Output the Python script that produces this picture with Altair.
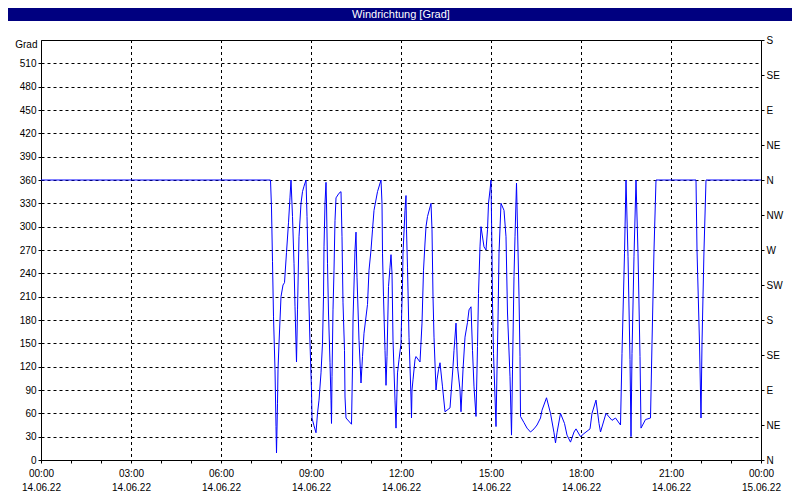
import altair as alt
import pandas as pd

# ---- data ----
times = [
    "00:00", "07:39", "07:41", "07:43", "07:45", "07:48", "07:50", "07:51", "07:53", "07:54",
    "07:56", "08:00", "08:04", "08:07", "08:11", "08:15", "08:18", "08:20", "08:23", "08:26",
    "08:28", "08:30", "08:31", "08:33", "08:36", "08:40", "08:43", "08:46", "08:50", "08:52",
    "08:54", "08:56", "08:58", "09:01", "09:02", "09:06", "09:10", "09:13", "09:16", "09:20",
    "09:23", "09:25", "09:26", "09:28", "09:30", "09:31", "09:33", "09:35", "09:38", "09:40",
    "09:41", "09:42", "09:44", "09:46", "09:48", "09:50", "09:56", "10:00", "10:02", "10:04",
    "10:07", "10:08", "10:10", "10:21", "10:23", "10:24", "10:28", "10:30", "10:32", "10:36",
    "10:40", "10:43", "10:46", "10:53", "10:56", "11:00", "11:03", "11:06", "11:13", "11:20",
    "11:22", "11:23", "11:25", "11:28", "11:30", "11:32", "11:35", "11:38", "11:40", "11:42",
    "11:44", "11:48", "11:50", "11:53", "11:56", "12:00", "12:01", "12:03", "12:04", "12:08",
    "12:10", "12:11", "12:13", "12:16", "12:20", "12:21", "12:22", "12:24", "12:28", "12:30",
    "12:38", "12:42", "12:45", "12:48", "12:50", "12:53", "13:00", "13:02", "13:04", "13:06",
    "13:10", "13:12", "13:15", "13:18", "13:23", "13:28", "13:38", "13:44", "13:46", "13:50",
    "13:53", "13:58", "14:00", "14:04", "14:08", "14:13", "14:16", "14:20", "14:23", "14:26",
    "14:30", "14:33", "14:35", "14:38", "14:40", "14:46", "14:50", "14:53", "14:55", "14:58",
    "15:00", "15:02", "15:03", "15:05", "15:08", "15:10", "15:12", "15:14", "15:16", "15:20",
    "15:26", "15:30", "15:33", "15:38", "15:41", "15:43", "15:46", "15:48", "15:51", "15:54",
    "15:56", "15:58", "15:59", "16:06", "16:12", "16:19", "16:26", "16:32", "16:39", "16:42",
    "16:51", "16:59", "17:06", "17:09", "17:12", "17:19", "17:27", "17:32", "17:39", "17:46",
    "17:50", "17:59", "18:06", "18:18", "18:22", "18:30", "18:36", "18:39", "18:50", "19:02",
    "19:09", "19:19", "19:22", "19:27", "19:30", "19:34", "19:38", "19:40", "19:42", "19:46",
    "19:50", "19:54", "19:58", "20:00", "20:09", "20:19", "20:22", "20:26", "20:30", "21:50",
    "21:52", "21:57", "22:00", "22:02", "22:06", "22:10", "24:00",
]
values = [
    360, 360, 324, 255, 184, 116, 43, 9, 73, 116,
    150, 210, 225, 228, 267, 305, 338, 360, 313, 253,
    197, 150, 126, 193, 287, 330, 345, 352, 360, 313,
    257, 198, 150, 90, 54, 44, 35, 60, 77, 112,
    150, 210, 274, 330, 357, 330, 253, 189, 125, 77,
    47, 107, 193, 244, 308, 337, 343, 345, 287, 202,
    141, 81, 54, 46, 120, 180, 270, 293, 235, 154,
    99, 133, 163, 200, 244, 270, 296, 321, 345, 360,
    330, 266, 210, 141, 96, 133, 223, 248, 264, 240,
    154, 77, 41, 112, 129, 150, 180, 227, 266, 321,
    340, 296, 248, 158, 81, 54, 90, 103, 129, 133,
    126, 176, 244, 279, 300, 313, 330, 296, 210, 158,
    90, 103, 116, 125, 94, 62, 67, 120, 141, 176,
    120, 90, 62, 116, 158, 177, 193, 197, 141, 94,
    56, 146, 214, 274, 300, 274, 270, 296, 330, 347,
    360, 266, 201, 137, 81, 43, 116, 180, 266, 330,
    321, 287, 189, 107, 32, 116, 236, 287, 356, 270,
    210, 133, 56, 48, 41, 36, 40, 45, 54, 64,
    80, 60, 35, 22, 35, 60, 47, 32, 23, 36,
    40, 30, 34, 40, 60, 77, 47, 36, 60, 51,
    54, 45, 137, 266, 360, 262, 129, 30, 137, 262,
    360, 266, 133, 41, 52, 54, 150, 270, 360, 360,
    270, 150, 54, 150, 270, 360, 360,
]
grid_times = ["03:00", "06:00", "09:00", "12:00", "15:00", "18:00", "21:00"]
day = "2022-06-14"
chart_title = "Windrichtung [Grad]"
y_title = "Grad"
compass = ["N", "NE", "E", "SE", "S", "SW", "W", "NW"]
left_ticks = list(range(0, 511, 30))
right_ticks = list(range(0, 541, 45))


def to_ts(hm):
    h, m = map(int, hm.split(":"))
    return pd.Timestamp(day) + pd.Timedelta(hours=h, minutes=m)


df = pd.DataFrame({"t": [to_ts(s) for s in times], "v": values})
gdf = pd.DataFrame({"t": [to_ts(s) for s in grid_times]})

FONT = "Liberation Sans"

hour_ticks = [alt.DateTime(year=2022, month=6, date=14, hours=h) for h in range(24)] + [
    alt.DateTime(year=2022, month=6, date=15, hours=0)
]

x_enc = alt.X(
    "t:T",
    scale=alt.Scale(
        domain=[alt.DateTime(year=2022, month=6, date=14, hours=0),
                alt.DateTime(year=2022, month=6, date=15, hours=0)],
        nice=False,
    ),
    axis=alt.Axis(
        title=None,
        values=hour_ticks,
        labelExpr="hours(datum.value) % 3 == 0 ? [timeFormat(datum.value, '%H:%M'), timeFormat(datum.value, '%d.%m.%y')] : ''",
        labelOverlap=False,
        labelFlush=False,
        labelBaseline="top",
        labelLineHeight=14,
        labelPadding=5,
        labelFont=FONT,
        labelFontSize=10,
        labelColor="black",
        tickSize=3,
        tickColor="black",
        domainColor="black",
        grid=False,
    ),
)

yscale = alt.Scale(domain=[0, 540], nice=False, zero=False)

vgrid = alt.Chart(gdf).mark_rule(
    color="black", strokeDash=[3, 3], strokeWidth=1, xOffset=0.5
).encode(x=x_enc, y=alt.value(0), y2=alt.value(420))

line = alt.Chart(df).mark_line(color="#0000ff", strokeWidth=1).encode(
    x=x_enc,
    y=alt.Y(
        "v:Q",
        scale=yscale,
        axis=alt.Axis(
            values=left_ticks,
            title=y_title,
            titleAngle=0,
            titleAlign="right",
            titleBaseline="middle",
            titleX=-4,
            titleY=4,
            titleFont=FONT,
            titleFontSize=10,
            titleFontWeight="normal",
            titleColor="black",
            grid=True,
            gridColor="black",
            gridDash=[3, 3],
            tickSize=3,
            tickColor="black",
            domainColor="black",
            labelPadding=2,
            labelFont=FONT,
            labelFontSize=10,
            labelColor="black",
        ),
    ),
)

right = alt.Chart(df).mark_line(opacity=0).encode(
    x=x_enc,
    y=alt.Y(
        "v:Q",
        scale=yscale,
        axis=alt.Axis(
            orient="right",
            values=right_ticks,
            labelExpr="%s[round(datum.value / 45) %% 8]" % str(compass),
            title=None,
            grid=False,
            tickSize=3,
            tickColor="black",
            domainColor="black",
            labelPadding=2,
            labelFont=FONT,
            labelFontSize=10,
            labelColor="black",
        ),
    ),
)

bar = alt.Chart(pd.DataFrame({"k": [0]})).mark_rect(color="#000080").encode(
    x=alt.value(-33), x2=alt.value(751), y=alt.value(-32), y2=alt.value(-19)
)

ttl = alt.Chart(pd.DataFrame({"txt": [chart_title]})).mark_text(
    color="white", font=FONT, fontSize=11, align="center", baseline="middle"
).encode(text="txt:N", x=alt.value(360), y=alt.value(-25.5))

chart = (
    alt.layer(vgrid, right, line, bar, ttl)
    .resolve_axis(y="independent")
    .properties(
        width=720,
        height=420,
        padding={"left": 33, "top": 32, "right": 31, "bottom": 32},
        autosize=alt.AutoSizeParams(type="none"),
        background="white",
    )
    .configure_view(stroke="black", strokeWidth=1)
)

chart.save("out.html", embed_options={"renderer": "svg", "actions": False})
